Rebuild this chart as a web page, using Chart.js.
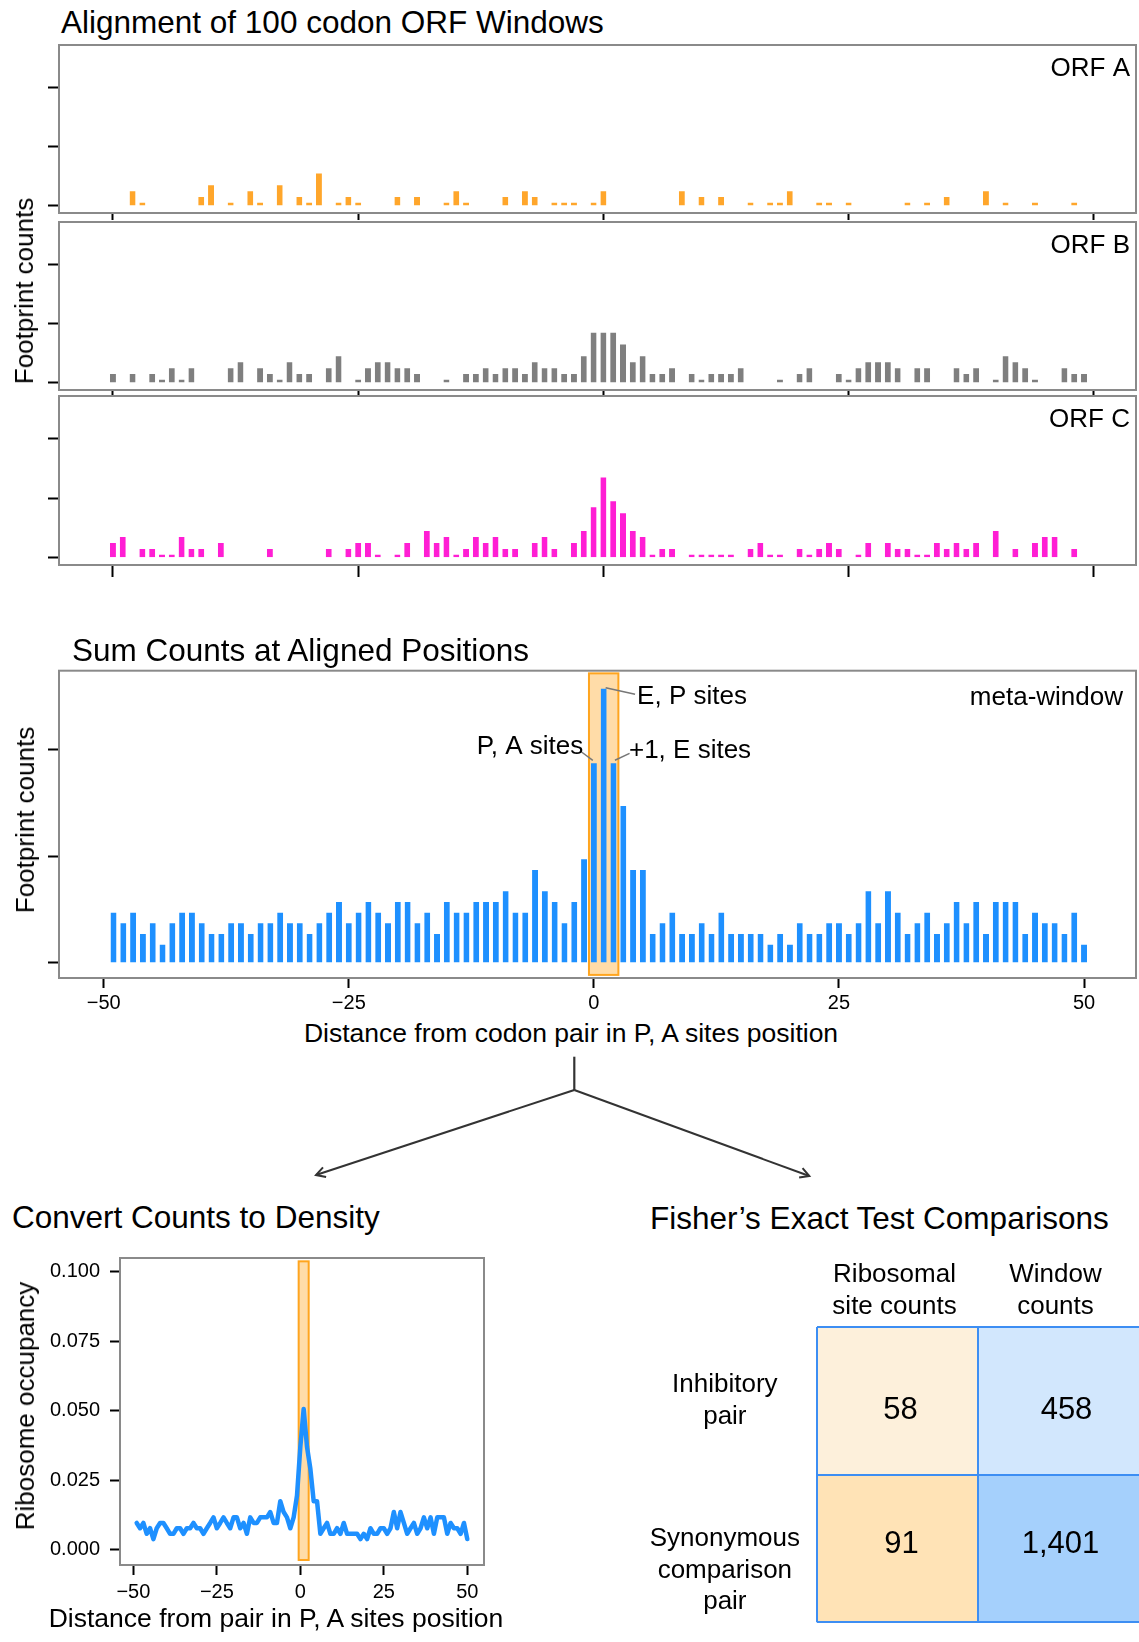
<!DOCTYPE html>
<html>
<head>
<meta charset="utf-8">
<title>Codon pair meta-window</title>
<script src="https://cdn.jsdelivr.net/npm/chart.js@4.4.1/dist/chart.umd.min.js"></script>
<style>
  body { margin: 0; background: #fff; }
  #fig { position: relative; width: 1139px; height: 1642px; overflow: hidden;
         font-family: 'Liberation Sans', Arial, Helvetica, sans-serif; color: #000; }
  #fig canvas, #fig svg { position: absolute; }
  .txt { position: absolute; white-space: nowrap; line-height: 1; }
  .head { font-size: 31.5px; }
  .axis { font-size: 26.5px; transform: translate(-50%, -50%); }
  .axis.up { font-size: 26px; transform: translate(-50%, -50%) rotate(-90deg); }
</style>
</head>
<body>
<div id="fig">
  <svg width="1139" height="1642" style="left:0;top:0">
    <defs>
      <marker id="head" markerWidth="14" markerHeight="14" refX="11" refY="7" orient="auto" markerUnits="userSpaceOnUse">
        <path d="M2,2 L11,7 L2,12" fill="none" stroke="#333" stroke-width="2"/>
      </marker>
    </defs>
    <path d="M574.3,1056.7 V1090" stroke="#333" stroke-width="2.2" fill="none"/>
    <path d="M574.3,1090 L316,1175" stroke="#333" stroke-width="2" fill="none" marker-end="url(#head)"/>
    <path d="M574.3,1090 L809.3,1176" stroke="#333" stroke-width="2" fill="none" marker-end="url(#head)"/>
  </svg>

  <canvas id="orfA" width="1139" height="181" style="left:0;top:40px"></canvas>
  <canvas id="orfB" width="1139" height="181" style="left:0;top:217px"></canvas>
  <canvas id="orfC" width="1139" height="188" style="left:0;top:391px"></canvas>
  <canvas id="meta" width="1139" height="350" style="left:0;top:660px"></canvas>
  <canvas id="density" width="500" height="406" style="left:0;top:1236px"></canvas>
  <canvas id="fisher" width="502" height="415" style="left:637px;top:1240px"></canvas>

  <div class="txt head" style="left:61px;top:7px">Alignment of 100 codon ORF Windows</div>
  <div class="txt axis up" style="left:24px;top:291px">Footprint counts</div>
  <div class="txt head" style="left:72px;top:635px">Sum Counts at Aligned Positions</div>
  <div class="txt axis up" style="left:25px;top:820px">Footprint counts</div>
  <div class="txt axis" style="left:571px;top:1033px">Distance from codon pair in P, A sites position</div>
  <div class="txt head" style="left:12px;top:1202px">Convert Counts to Density</div>
  <div class="txt axis up" style="left:25px;top:1406px">Ribosome occupancy</div>
  <div class="txt axis" style="left:276px;top:1618px">Distance from pair in P, A sites position</div>
  <div class="txt head" style="left:650px;top:1203px">Fisher’s Exact Test Comparisons</div>
</div>

<script>
// codon offsets: the example windows run -50..49, the summed meta-window -49..50
const orfPositions = Array.from({ length: 100 }, (_, i) => i - 50);
const metaPositions = Array.from({ length: 100 }, (_, i) => i - 49);

const orfA = [
  0, 0, 3, 1, 0, 0, 0, 0, 0, 2,
  4, 0, 1, 0, 3, 1, 0, 4, 0, 2,
  1, 6, 0, 1, 2, 1, 0, 0, 0, 2,
  0, 2, 0, 0, 1, 3, 1, 0, 0, 0,
  2, 0, 3, 2, 0, 1, 1, 1, 0, 1,
  3, 0, 0, 0, 0, 0, 0, 0, 3, 0,
  2, 0, 2, 0, 0, 1, 0, 1, 1, 3,
  0, 0, 1, 1, 0, 1, 0, 0, 0, 0,
  0, 1, 0, 1, 0, 2, 0, 0, 0, 3,
  0, 1, 0, 0, 1, 0, 0, 0, 1, 0
];
const orfB = [
  2, 0, 2, 0, 2, 1, 3, 1, 3, 0,
  0, 0, 3, 4, 0, 3, 2, 1, 4, 2,
  2, 0, 3, 5, 0, 1, 3, 4, 4, 3,
  3, 2, 0, 0, 1, 0, 2, 2, 3, 2,
  3, 3, 2, 4, 3, 3, 2, 2, 5, 9,
  9, 9, 7, 4, 5, 2, 2, 3, 0, 2,
  1, 2, 2, 2, 3, 0, 0, 0, 1, 0,
  2, 3, 0, 0, 2, 1, 3, 4, 4, 4,
  3, 0, 3, 3, 0, 0, 3, 2, 3, 0,
  1, 5, 4, 3, 1, 0, 0, 3, 2, 2
];
const orfC = [
  3, 4, 0, 2, 2, 1, 1, 4, 2, 2,
  0, 3, 0, 0, 0, 0, 2, 0, 0, 0,
  0, 0, 2, 0, 2, 3, 3, 1, 0, 1,
  3, 0, 5, 3, 4, 1, 2, 4, 3, 4,
  2, 2, 0, 3, 4, 2, 0, 3, 5, 9,
  14, 10, 8, 5, 4, 1, 2, 2, 0, 1,
  1, 1, 1, 1, 0, 2, 3, 1, 1, 0,
  2, 1, 2, 3, 2, 0, 1, 3, 0, 3,
  2, 2, 1, 1, 3, 2, 3, 2, 3, 0,
  5, 0, 2, 0, 3, 4, 4, 0, 2, 0
];
const metaCounts = [
  5, 4, 5, 3, 4, 2, 4, 5, 5, 4,
  3, 3, 4, 4, 3, 4, 4, 5, 4, 4,
  3, 4, 5, 6, 4, 5, 6, 5, 4, 6,
  6, 4, 5, 3, 6, 5, 5, 6, 6, 6,
  7, 5, 5, 9, 7, 6, 4, 6, 10, 19,
  26, 19, 15, 9, 9, 3, 4, 5, 3, 3,
  4, 3, 5, 3, 3, 3, 3, 2, 3, 2,
  4, 3, 3, 4, 4, 3, 4, 7, 4, 7,
  5, 3, 4, 5, 3, 4, 6, 4, 6, 3,
  6, 6, 6, 3, 5, 4, 4, 3, 5, 2
];
const occupancy = [
  0.0097, 0.0078, 0.0097, 0.0058, 0.0078, 0.0039, 0.0078, 0.0097, 0.0097, 0.0078,
  0.0058, 0.0058, 0.0078, 0.0078, 0.0058, 0.0078, 0.0078, 0.0097, 0.0078, 0.0078,
  0.0058, 0.0078, 0.0097, 0.0117, 0.0078, 0.0097, 0.0117, 0.0097, 0.0078, 0.0117,
  0.0117, 0.0078, 0.0097, 0.0058, 0.0117, 0.0097, 0.0097, 0.0117, 0.0117, 0.0117,
  0.0136, 0.0097, 0.0097, 0.0175, 0.0136, 0.0117, 0.0078, 0.0117, 0.0195, 0.0370,
  0.0506, 0.0370, 0.0292, 0.0175, 0.0175, 0.0058, 0.0078, 0.0097, 0.0058, 0.0058,
  0.0078, 0.0058, 0.0097, 0.0058, 0.0058, 0.0058, 0.0058, 0.0039, 0.0058, 0.0039,
  0.0078, 0.0058, 0.0058, 0.0078, 0.0078, 0.0058, 0.0078, 0.0136, 0.0078, 0.0136,
  0.0097, 0.0058, 0.0078, 0.0097, 0.0058, 0.0078, 0.0117, 0.0078, 0.0117, 0.0058,
  0.0117, 0.0117, 0.0117, 0.0058, 0.0097, 0.0078, 0.0078, 0.0058, 0.0097, 0.0039
];

const distanceTicks = [-50, -25, 0, 25, 50];
const countTicks = [0, 10, 20];
const occupancyTicks = [0, 0.025, 0.05, 0.075, 0.1];
const siteWindow = [-0.5, 2.5];

const fisherColumns = [['Ribosomal', 'site counts'], ['Window', 'counts']];
const fisherRows = [['Inhibitory', 'pair'], ['Synonymous', 'comparison', 'pair']];
const fisherCounts = [[58, 458], [91, 1401]];

const FONT = "'Liberation Sans', Arial, Helvetica, sans-serif";
Chart.defaults.font.family = FONT;
Chart.defaults.color = '#000';
Chart.defaults.animation = false;
Chart.defaults.responsive = false;
Chart.defaults.events = [];
Chart.defaults.plugins.legend.display = false;
Chart.defaults.plugins.tooltip.enabled = false;

// grey box round the plot area
const frame = {
  id: 'frame',
  afterDatasetsDraw(chart) {
    const { ctx, chartArea: a } = chart;
    ctx.save();
    ctx.strokeStyle = '#8a8a8a';
    ctx.lineWidth = 2;
    ctx.strokeRect(a.left, a.top, a.width, a.height);
    ctx.restore();
  }
};

// shaded band over the three ribosome site codons
const siteBox = {
  id: 'siteBox',
  beforeDatasetsDraw(chart, args, opts) {
    if (!opts.y) return;
    const { ctx, scales: { x, y } } = chart;
    const x0 = x.getPixelForValue(siteWindow[0]);
    const x1 = x.getPixelForValue(siteWindow[1]);
    const y0 = y.getPixelForValue(opts.y[1]);
    const y1 = y.getPixelForValue(opts.y[0]);
    ctx.save();
    ctx.fillStyle = '#ffdca8';
    ctx.fillRect(x0, y0, x1 - x0, y1 - y0);
    ctx.strokeStyle = '#ffa51f';
    ctx.lineWidth = 2;
    ctx.strokeRect(x0, y0, x1 - x0, y1 - y0);
    ctx.restore();
  }
};

// panel name in the corner plus labelled leader lines
const notes = {
  id: 'notes',
  afterDraw(chart, args, opts) {
    const { ctx, chartArea: a, scales: { x, y } } = chart;
    ctx.save();
    ctx.font = '26px ' + FONT;
    ctx.fillStyle = '#000';
    if (opts.corner) {
      ctx.textAlign = 'right';
      ctx.fillText(opts.corner, a.right - opts.inset[0], a.top + opts.inset[1]);
    }
    (opts.sites || []).forEach(s => {
      ctx.strokeStyle = '#777';
      ctx.lineWidth = 1.5;
      ctx.beginPath();
      ctx.moveTo(x.getPixelForValue(s.from[0]), y.getPixelForValue(s.from[1]));
      ctx.lineTo(x.getPixelForValue(s.to[0]), y.getPixelForValue(s.to[1]));
      ctx.stroke();
      ctx.textAlign = s.align;
      ctx.fillText(s.text, x.getPixelForValue(s.at[0]), y.getPixelForValue(s.at[1]));
    });
    ctx.restore();
  }
};

function minusLabel(v) {
  return v < 0 ? '\u2212' + (-v) : String(v);
}

function distanceAxis(min, max, tickLength, showLabels, height, pad) {
  return {
    type: 'linear', min, max, bounds: 'data', offset: false,
    afterBuildTicks: s => { s.ticks = distanceTicks.map(value => ({ value })); },
    afterFit: s => { s.height = height; },
    border: { display: false },
    grid: { offset: false, drawOnChartArea: false, drawTicks: true, tickLength, tickWidth: 2, tickColor: '#000' },
    ticks: { display: showLabels, padding: pad, maxRotation: 0, minRotation: 0, autoSkip: false,
             font: { size: 20 }, callback: minusLabel }
  };
}

function valueAxis(min, max, ticks, width, tickLength, labels) {
  return {
    type: 'linear', min, max, bounds: 'data',
    afterBuildTicks: s => { s.ticks = ticks.map(value => ({ value })); },
    afterFit: s => { s.width = width; },
    border: { display: false },
    grid: { drawOnChartArea: false, drawTicks: true, tickLength, tickWidth: 2, tickColor: '#000' },
    ticks: labels
      ? { display: true, padding: 10, font: { size: 20 }, callback: v => v.toFixed(3) }
      : { display: false }
  };
}

function countBars(counts, color) {
  return {
    data: counts,
    backgroundColor: color,
    borderColor: 'rgba(0,0,0,0)',
    borderWidth: { top: 3, right: 0, bottom: 0, left: 0 },
    borderSkipped: false,
    inflateAmount: 0,
    barThickness: 6
  };
}

function orfPanel(id, counts, color, name, tickLength, axisHeight) {
  new Chart(document.getElementById(id), {
    type: 'bar',
    data: { labels: orfPositions, datasets: [countBars(counts, color)] },
    options: {
      devicePixelRatio: 1,
      layout: { padding: { top: 5, right: 3, bottom: 0, left: 0 } },
      scales: {
        x: distanceAxis(-55.5, 54.3, tickLength, false, axisHeight, 0),
        y: valueAxis(-1.2, 27.2, countTicks, 59, 11, false)
      },
      plugins: { notes: { corner: name, inset: [6, 30.5] } }
    },
    plugins: [frame, notes]
  });
}

orfPanel('orfA', orfA, '#ffa62b', 'ORF A', 7, 8);
orfPanel('orfB', orfB, '#7f7f7f', 'ORF B', 7, 8);
orfPanel('orfC', orfC, '#ff1ed4', 'ORF C', 12, 14);

new Chart(document.getElementById('meta'), {
  type: 'bar',
  data: { labels: metaPositions, datasets: [countBars(metaCounts, '#1e90ff')] },
  options: {
    devicePixelRatio: 1,
    layout: { padding: { top: 10.7, right: 3, bottom: 0, left: 0 } },
    scales: {
      x: distanceAxis(-54.56, 55.3, 10, true, 32, 3),
      y: valueAxis(-1.41, 27.4, countTicks, 59, 11, false)
    },
    plugins: {
      siteBox: { y: [-1.12, 27.15] },
      notes: {
        corner: 'meta-window', inset: [13, 34.3],
        sites: [
          { text: 'E, P sites', align: 'left', at: [4.41, 24.3], from: [1.2, 25.8], to: [4.2, 25.2] },
          { text: '+1, E sites', align: 'left', at: [3.58, 19.2], from: [2.15, 19.0], to: [3.64, 19.65] },
          { text: 'P, A sites', align: 'right', at: [-1.09, 19.6], from: [-1.29, 19.8], to: [-0.11, 19.0] }
        ]
      }
    }
  },
  plugins: [siteBox, frame, notes]
});

new Chart(document.getElementById('density'), {
  type: 'line',
  data: {
    labels: metaPositions,
    datasets: [{
      data: occupancy, borderColor: '#1e90ff', borderWidth: 4.5, pointRadius: 0,
      tension: 0, borderJoinStyle: 'round', borderCapStyle: 'round', fill: false
    }]
  },
  options: {
    devicePixelRatio: 1,
    layout: { padding: { top: 0, right: 16, bottom: 0, left: 0 } },
    scales: {
      x: distanceAxis(-54, 55, 10, true, 77, 5),
      y: valueAxis(-0.0054, 0.1048, occupancyTicks, 120, 10, true)
    },
    plugins: { siteBox: { y: [-0.0036, 0.1036] } }
  },
  plugins: [siteBox, frame]
});

// 2x2 contingency table: one floating bar per cell, grid lines drawn on top
const cellColors = [['#fdf0db', '#d2e7fd'], ['#ffe3b6', '#a5d0fc']];
const gridBlue = '#3d8ef3';
const numberShift = [[3, 10], [8, 10], [4, -3], [2, -3]];

new Chart(document.getElementById('fisher'), {
  type: 'bar',
  data: {
    labels: fisherColumns,
    datasets: fisherCounts.map((row, r) => ({
      data: row.map(() => [1 - r, 2 - r]),
      backgroundColor: cellColors[r],
      borderWidth: 0,
      barPercentage: 1,
      categoryPercentage: 1,
      grouped: false
    }))
  },
  options: {
    devicePixelRatio: 1,
    layout: { padding: 0 },
    scales: {
      x: {
        type: 'category', position: 'top', offset: true,
        afterFit: s => { s.height = 87; },
        border: { display: false },
        grid: { offset: true, z: 1, drawTicks: false, lineWidth: 2,
                color: c => c.type === 'tick' ? gridBlue : 'rgba(0,0,0,0)' },
        ticks: { padding: 4.5, labelOffset: -3, maxRotation: 0, minRotation: 0, autoSkip: false,
                 font: { size: 26, lineHeight: 1.22 } }
      },
      y: {
        type: 'linear', min: 0, max: 2, bounds: 'data',
        afterBuildTicks: s => { s.ticks = [0, 0.35, 1, 1.5, 2].map(value => ({ value })); },
        afterFit: s => { s.width = 180; },
        border: { display: false },
        grid: { z: 1, drawTicks: false, lineWidth: 2,
                color: c => c.tick && Number.isInteger(c.tick.value) ? gridBlue : 'rgba(0,0,0,0)' },
        ticks: {
          padding: 17, crossAlign: 'center', autoSkip: false,
          font: { size: 26, lineHeight: 1.22 },
          callback: v => v === 1.5 ? fisherRows[0] : v === 0.35 ? fisherRows[1] : ''
        }
      }
    }
  },
  plugins: [{
    id: 'cellCounts',
    afterDraw(chart) {
      const { ctx } = chart;
      ctx.save();
      ctx.font = '31px ' + FONT;
      ctx.fillStyle = '#000';
      ctx.textAlign = 'center';
      ctx.textBaseline = 'middle';
      fisherCounts.forEach((row, r) => {
        const bars = chart.getDatasetMeta(r).data;
        row.forEach((n, c) => {
          const bar = bars[c];
          const [dx, dy] = numberShift[r * 2 + c];
          ctx.fillText(n.toLocaleString('en-US'), bar.x + dx, (bar.y + bar.base) / 2 + dy);
        });
      });
      ctx.restore();
    }
  }]
});
</script>
</body>
</html>
